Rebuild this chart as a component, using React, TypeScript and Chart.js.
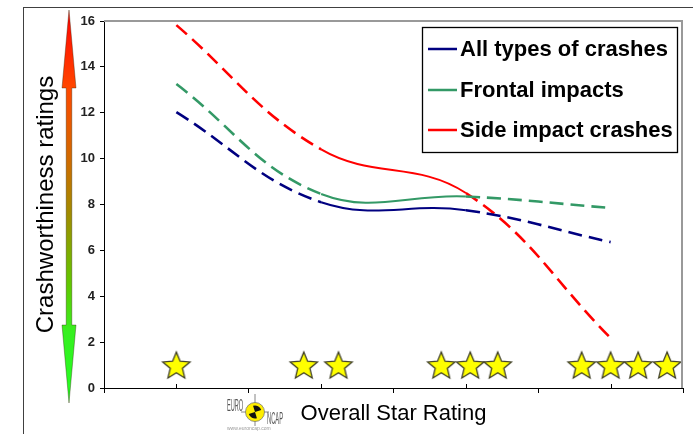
import React, { useEffect, useRef } from 'react';
import { Chart, registerables } from 'chart.js';

Chart.register(...registerables);

// ---- data ----
const categories = [1, 2, 3, 4]; // 1..4 star groups (x positions)
const seriesLabels = ['All types of crashes', 'Frontal impacts', 'Side impact crashes'];
const allCrashes = [12.03, 8.1, 7.75, 6.36];
const frontalImpacts = [13.25, 8.46, 8.35, 7.85];
const sideImpacts = [15.82, 10.4, 8.5, 2.18];
const seriesColors = ['#000080', '#339966', '#ff0000'];
const starPositions = [1.0, 1.88, 2.12, 2.83, 3.03, 3.22, 3.8, 4.0, 4.19, 4.39];
const starLevel = 1.0;
const yTickValues = [0, 2, 4, 6, 8, 10, 12, 14, 16];
const categoryBounds = [0.5, 1.5, 2.5, 3.5, 4.5];
const yTitle = 'Crashworthiness ratings';
const xTitle = 'Overall Star Rating';

const FONT = "'Liberation Sans', Arial, sans-serif";

function makeStar(): HTMLCanvasElement {
  const size = 32;
  const c = document.createElement('canvas');
  c.width = size;
  c.height = size;
  const g = c.getContext('2d') as CanvasRenderingContext2D;
  const R = 14.3;
  const r = R * 0.45;
  const cx = size / 2;
  const cy = size / 2 + 0.0955 * R;
  g.beginPath();
  for (let i = 0; i < 10; i++) {
    const rad = i % 2 === 0 ? R : r;
    const a = -Math.PI / 2 + (i * Math.PI) / 5;
    const x = cx + rad * Math.cos(a);
    const y = cy + rad * Math.sin(a);
    if (i === 0) g.moveTo(x, y);
    else g.lineTo(x, y);
  }
  g.closePath();
  g.fillStyle = '#ffff00';
  g.fill();
  g.lineWidth = 1.3;
  g.strokeStyle = '#3b3b22';
  g.lineJoin = 'miter';
  g.stroke();
  return c;
}

const decorPlugin = {
  id: 'decor',
  beforeDraw(chart: any) {
    const ctx = chart.ctx as CanvasRenderingContext2D;
    ctx.save();
    ctx.fillStyle = '#ffffff';
    ctx.fillRect(0, 0, chart.width, chart.height);
    // outer frame lines
    ctx.strokeStyle = '#404040';
    ctx.lineWidth = 1;
    ctx.beginPath();
    ctx.moveTo(23, 7.5);
    ctx.lineTo(chart.width, 7.5);
    ctx.moveTo(23.5, 7);
    ctx.lineTo(23.5, chart.height);
    ctx.stroke();
    // gradient double arrow
    const ax = 69;
    const top = 10;
    const bot = 403;
    const grad = ctx.createLinearGradient(0, top, 0, bot);
    grad.addColorStop(0, '#ff0000');
    grad.addColorStop(0.2, '#ff4800');
    grad.addColorStop(0.38, '#d06a00');
    grad.addColorStop(0.52, '#a08c00');
    grad.addColorStop(0.7, '#60c800');
    grad.addColorStop(0.82, '#36f020');
    grad.addColorStop(1, '#22ff22');
    ctx.beginPath();
    ctx.moveTo(ax, top);
    ctx.lineTo(ax + 7, 88);
    ctx.lineTo(ax + 2.8, 88);
    ctx.lineTo(ax + 2.8, 325);
    ctx.lineTo(ax + 7, 325);
    ctx.lineTo(ax, bot);
    ctx.lineTo(ax - 7, 325);
    ctx.lineTo(ax - 2.8, 325);
    ctx.lineTo(ax - 2.8, 88);
    ctx.lineTo(ax - 7, 88);
    ctx.closePath();
    ctx.fillStyle = grad;
    ctx.fill();
    ctx.lineWidth = 0.6;
    ctx.strokeStyle = 'rgba(40,30,0,0.6)';
    ctx.stroke();
    ctx.restore();
  },
  afterDraw(chart: any) {
    const ctx = chart.ctx as CanvasRenderingContext2D;
    const area = chart.chartArea;
    const xs = chart.scales.x;
    ctx.save();
    // plot border (gray)
    ctx.strokeStyle = '#999999';
    ctx.lineWidth = 2;
    ctx.beginPath();
    ctx.moveTo(area.left, area.top);
    ctx.lineTo(area.right - 1, area.top);
    ctx.lineTo(area.right - 1, area.bottom);
    ctx.stroke();
    // inner category ticks
    ctx.strokeStyle = '#000';
    ctx.lineWidth = 1;
    ctx.beginPath();
    categories.forEach((c) => {
      const px = Math.round(xs.getPixelForValue(c)) + 0.5;
      ctx.moveTo(px, area.bottom);
      ctx.lineTo(px, area.bottom - 4);
    });
    ctx.stroke();
    // legend
    const lx = 422.5, ly = 27.5, lw = 255, lh = 125;
    ctx.fillStyle = '#fff';
    ctx.fillRect(lx, ly, lw, lh);
    ctx.strokeStyle = '#000';
    ctx.lineWidth = 1.3;
    ctx.strokeRect(lx, ly, lw, lh);
    const rows = [49, 90, 130];
    ctx.font = `bold 22px ${FONT}`;
    ctx.textBaseline = 'middle';
    ctx.textAlign = 'left';
    seriesLabels.forEach((lab, i) => {
      ctx.strokeStyle = seriesColors[i];
      ctx.lineWidth = 2.5;
      ctx.beginPath();
      ctx.moveTo(428, rows[i]);
      ctx.lineTo(457, rows[i]);
      ctx.stroke();
      ctx.fillStyle = '#000';
      ctx.fillText(lab, 460, rows[i] + 1);
    });
    // Euro NCAP logo
    const cx = 255, cy = 412;
    ctx.strokeStyle = '#666';
    ctx.lineWidth = 0.8;
    ctx.beginPath();
    ctx.moveTo(cx, 394);
    ctx.lineTo(cx, 426);
    ctx.moveTo(cx - 14, cy);
    ctx.lineTo(cx + 14, cy);
    ctx.stroke();
    ctx.beginPath();
    ctx.arc(cx, cy, 9.5, 0, Math.PI * 2);
    ctx.fillStyle = '#ffee00';
    ctx.fill();
    ctx.strokeStyle = '#777';
    ctx.stroke();
    ctx.fillStyle = '#111';
    ctx.beginPath();
    ctx.moveTo(cx, cy);
    ctx.arc(cx, cy, 6.5, -Math.PI / 2 - 0.3, -0.3);
    ctx.closePath();
    ctx.fill();
    ctx.beginPath();
    ctx.moveTo(cx, cy);
    ctx.arc(cx, cy, 6.5, Math.PI / 2 - 0.3, Math.PI - 0.3);
    ctx.closePath();
    ctx.fill();
    ctx.fillStyle = '#555';
    ctx.save();
    ctx.translate(227, 411);
    ctx.scale(0.35, 1);
    ctx.font = `16px ${FONT}`;
    ctx.textBaseline = 'alphabetic';
    ctx.fillText('EURO', 0, 0);
    ctx.restore();
    ctx.save();
    ctx.translate(267, 424);
    ctx.scale(0.36, 1);
    ctx.font = `16px ${FONT}`;
    ctx.textBaseline = 'alphabetic';
    ctx.fillText('NCAP', 0, 0);
    ctx.restore();
    ctx.fillStyle = '#999';
    ctx.font = `5px ${FONT}`;
    ctx.textBaseline = 'middle';
    ctx.fillText('www.euroncap.com', 227, 429);
    ctx.restore();
  },
};

export default function App() {
  const ref = useRef<HTMLCanvasElement | null>(null);
  useEffect(() => {
    if (!ref.current) return;
    const star = makeStar();
    const lineDs = (label: string, vals: number[], color: string) => ({
      type: 'line' as const,
      label,
      data: categories.map((c, i) => ({ x: c, y: vals[i] })),
      borderColor: color,
      backgroundColor: color,
      pointRadius: 0,
      pointHoverRadius: 0,
      tension: 0.4,
      fill: false,
      borderWidth: 2.5,
      borderCapStyle: 'butt' as const,
      segment: {
        borderDash: (c: any) => (c.p0DataIndex === 1 ? [] : [14, 7]),
        borderWidth: (c: any) => (c.p0DataIndex === 1 ? 2 : 2.6),
      },
    });
    const chart = new Chart(ref.current, {
      type: 'line',
      data: {
        datasets: [
          {
            type: 'line',
            label: 'stars',
            data: starPositions.map((x) => ({ x, y: starLevel })),
            showLine: false,
            pointStyle: star as any,
            pointRadius: 14,
            pointHoverRadius: 14,
          } as any,
          lineDs(seriesLabels[0], allCrashes, seriesColors[0]),
          lineDs(seriesLabels[1], frontalImpacts, seriesColors[1]),
          lineDs(seriesLabels[2], sideImpacts, seriesColors[2]),
        ],
      },
      options: {
        responsive: false,
        animation: false,
        devicePixelRatio: 1,
        layout: { autoPadding: false, padding: { left: 0, right: 10, top: 21, bottom: 0 } },
        plugins: {
          legend: { display: false },
          tooltip: { enabled: false },
        },
        events: [],
        scales: {
          x: {
            type: 'linear',
            min: 0.5,
            max: 4.5,
            afterBuildTicks: (s: any) => {
              s.ticks = categoryBounds.map((v) => ({ value: v }));
            },
            afterFit: (s: any) => {
              s.height = 46;
            },
            ticks: { display: false },
            grid: {
              display: true,
              drawOnChartArea: false,
              drawTicks: true,
              tickLength: 5,
              color: '#000',
              lineWidth: 1,
            },
            border: { display: true, color: '#000', width: 1 },
            title: {
              display: true,
              text: xTitle,
              color: '#000',
              font: { family: FONT, size: 22, weight: 'normal' },
              padding: { top: 0, bottom: 7 },
            },
          },
          y: {
            type: 'linear',
            min: 0,
            max: 16,
            afterBuildTicks: (s: any) => {
              s.ticks = yTickValues.map((v) => ({ value: v }));
            },
            afterFit: (s: any) => {
              s.width = 104;
            },
            ticks: {
              color: '#222',
              padding: 5,
              font: { family: FONT, size: 13, weight: 'bold' },
            },
            grid: {
              display: true,
              drawOnChartArea: false,
              drawTicks: true,
              tickLength: 4,
              color: '#000',
              lineWidth: 1,
            },
            border: { display: true, color: '#000', width: 1 },
            title: {
              display: true,
              text: yTitle,
              color: '#000',
              font: { family: FONT, size: 24, weight: 'normal' },
              padding: { top: 32, bottom: 0 },
            },
          },
        },
      } as any,
      plugins: [decorPlugin],
    });
    return () => chart.destroy();
  }, []);
  return (
    <div style={{ position: 'absolute', left: 0, top: 0, width: 693, height: 434 }}>
      <canvas ref={ref} width={693} height={434} style={{ width: 693, height: 434, display: 'block' }} />
    </div>
  );
}
